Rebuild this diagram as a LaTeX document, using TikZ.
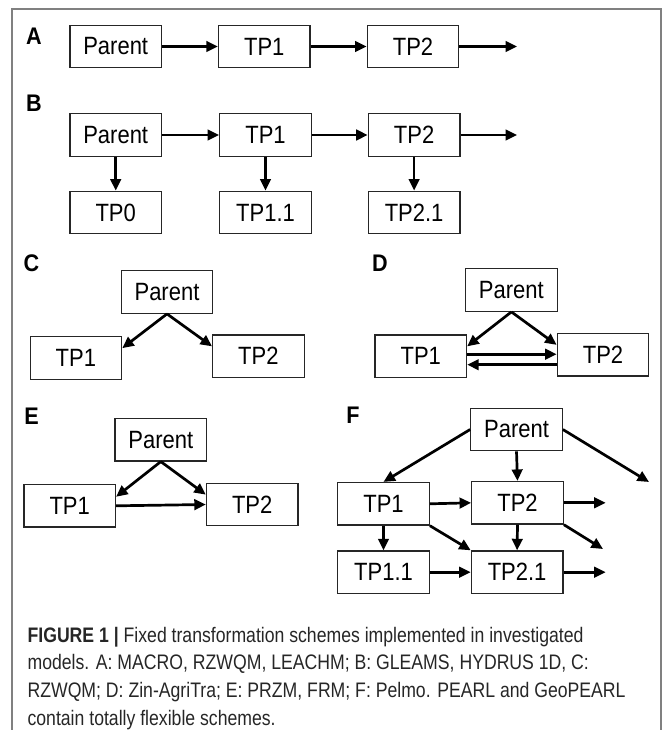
\documentclass[tikz,border=0pt]{standalone}
\usepackage{fontspec}
\setmainfont{Liberation Sans}[FakeStretch=0.9]
\newfontfamily\boxfont{Liberation Sans}[FakeStretch=0.88]
\newfontfamily\capfont{Liberation Sans}[FakeStretch=0.84]
\usetikzlibrary{arrows.meta}

\begin{document}
\begin{tikzpicture}[x=1pt, y=-1pt,
    box/.style={draw=black!85, line width=1.3pt, minimum width=91.5pt, minimum height=42.5pt,
        inner sep=0pt, font=\boxfont\fontsize{25}{29}\selectfont},
    flow/.style={-{Triangle[length=11.5pt, width=10.5pt]}, line width=2.7pt},
    panel/.style={font=\bfseries\fontsize{24}{28}\selectfont},
    captext/.style={anchor=base west, inner sep=0pt, text=black!85,
        font=\capfont\fontsize{21}{25}\selectfont}]
    \useasboundingbox (0,0) rectangle (662,730);

    % Frame
    \draw [black!50, line width=1.5pt] (12,731) -- (12,9) -- (661,9) -- (661,731);

    % Panel A
    \node[panel] (A-label) at (34,36) {A};
    \node[box] (A-parent) at (115.7,46.5) {Parent};
    \node[box] (A-tp1) at (264.3,46.5) {TP1};
    \node[box] (A-tp2) at (413,46.5) {TP2};
    \coordinate (A-out) at (517,46.5);
    \draw [flow] (A-parent) -- (A-tp1);
    \draw [flow] (A-tp1) -- (A-tp2);
    \draw [flow] (A-tp2) -- (A-out);

    % Panel B
    \node[panel] (B-label) at (34,103) {B};
    \node[box] (B-parent) at (115.7,135) {Parent};
    \node[box] (B-tp1) at (265.5,135) {TP1};
    \node[box] (B-tp2) at (414.1,135) {TP2};
    \node[box] (B-tp0) at (115.7,212.5) {TP0};
    \node[box] (B-tp11) at (265.5,212.5) {TP1.1};
    \node[box] (B-tp21) at (414.1,212.5) {TP2.1};
    \coordinate (B-out) at (517,135);
    \draw [flow] (B-parent) -- (B-tp1);
    \draw [flow] (B-tp1) -- (B-tp2);
    \draw [flow] (B-tp2) -- (B-out);
    \draw [flow] (B-parent) -- (B-tp0);
    \draw [flow] (B-tp1) -- (B-tp11);
    \draw [flow] (B-tp2) -- (B-tp21);

    % Panel C
    \node[panel] (C-label) at (31.5,263) {C};
    \node[box] (C-parent) at (167,292) {Parent};
    \node[box] (C-tp1) at (75.9,358) {TP1};
    \node[box] (C-tp2) at (258.4,356.2) {TP2};
    \draw [flow] (C-parent.south) -- (C-tp1.12);
    \draw [flow] (C-parent.south) -- (C-tp2.168);

    % Panel D
    \node[panel] (D-label) at (380,263) {D};
    \node[box] (D-parent) at (511.4,290) {Parent};
    \node[box] (D-tp1) at (420.8,356.2) {TP1};
    \node[box] (D-tp2) at (603,354.7) {TP2};
    \draw [flow] (D-parent.south) -- (D-tp1.12);
    \draw [flow] (D-parent.south) -- (D-tp2.168);
    \coordinate (D-fwd) at ([yshift=2pt]D-tp1.east);
    \coordinate (D-back) at ([yshift=-10pt]D-tp2.west);
    \draw [flow] (D-fwd) -- (D-fwd -| D-tp2.west);
    \draw [flow] (D-back) -- (D-back -| D-tp1.east);

    % Panel E
    \node[panel] (E-label) at (31.5,416) {E};
    \node[box] (E-parent) at (160.8,439.7) {Parent};
    \node[box] (E-tp1) at (69.7,505.8) {TP1};
    \node[box] (E-tp2) at (252.2,504.5) {TP2};
    \draw [flow] (E-parent.south) -- (E-tp1.11);
    \draw [flow] (E-parent.south) -- (E-tp2.168);
    \draw [flow] (E-tp1.east) -- (E-tp2.west);

    % Panel F
    \node[panel] (F-label) at (353,415) {F};
    \node[box] (F-parent) at (516.5,429.5) {Parent};
    \node[box] (F-tp1) at (383.5,503.8) {TP1};
    \node[box] (F-tp2) at (517.5,502.8) {TP2};
    \node[box] (F-tp11) at (383.5,572.2) {TP1.1};
    \node[box] (F-tp21) at (517.1,572.2) {TP2.1};
    \coordinate (F-out0) at (649,482);
    \coordinate (F-out1) at (605.7,502.8);
    \coordinate (F-out2) at (603,549);
    \coordinate (F-out3) at (605.7,572.2);
    \draw [flow] (F-parent.west) -- (F-tp1.north);
    \draw [flow] (F-parent.south) -- (F-tp2.north);
    \draw [flow] (F-parent.east) -- (F-out0);
    \draw [flow] (F-tp1.east) -- (F-tp2.west);
    \draw [flow] (F-tp2.east) -- (F-out1);
    \draw [flow] (F-tp1.south) -- (F-tp11.north);
    \draw [flow] (F-tp1.south east) -- (F-tp21.north west);
    \draw [flow] (F-tp2.south) -- (F-tp21.north);
    \draw [flow] (F-tp2.south east) -- (F-out2);
    \draw [flow] (F-tp11.east) -- (F-tp21.west);
    \draw [flow] (F-tp21.east) -- (F-out3);

    % Caption
    \node[captext] (cap1) at (27.4,642) {\textbf{FIGURE 1 |} Fixed transformation schemes implemented in investigated};
    \node[captext] (cap2) at (27.4,669.7) {models. A: MACRO, RZWQM, LEACHM; B: GLEAMS, HYDRUS 1D, C:};
    \node[captext] (cap3) at (27.4,697.4) {RZWQM; D: Zin-AgriTra; E: PRZM, FRM; F: Pelmo. PEARL and GeoPEARL};
    \node[captext] (cap4) at (27.4,725) {contain totally flexible schemes.};
\end{tikzpicture}
\end{document}
